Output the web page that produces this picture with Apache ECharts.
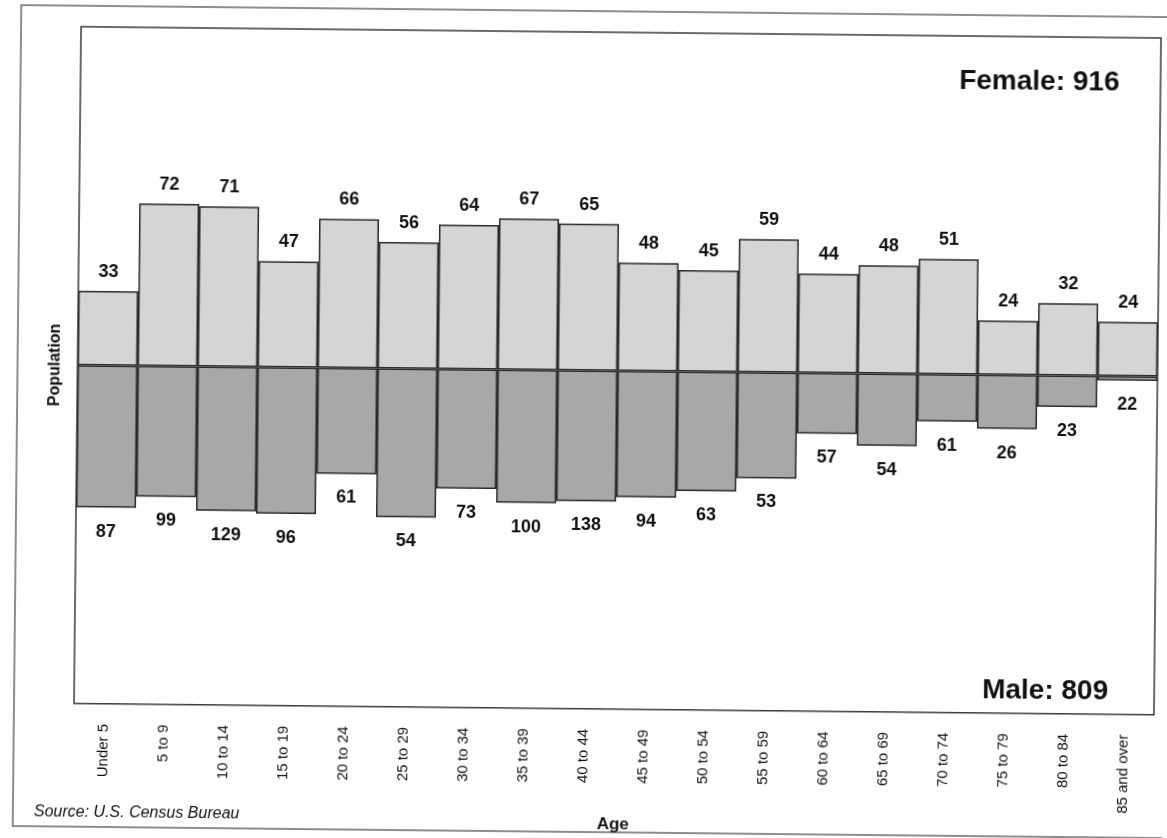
<!DOCTYPE html>
<html>
<head>
<meta charset="utf-8">
<script src="https://cdn.jsdelivr.net/npm/echarts@6/dist/echarts.min.js"></script>
<style>
  html, body { margin: 0; padding: 0; background: #fff; overflow: hidden; }
  #chart {
    width: 1167px;
    height: 838px;
    transform: rotate(0.6deg);
    transform-origin: 50% 50%;
  }
</style>
</head>
<body>
<div id="chart"></div>
<script>
  // age groups along the x axis
  const ages = [
    'Under 5', '5 to 9', '10 to 14', '15 to 19', '20 to 24', '25 to 29',
    '30 to 34', '35 to 39', '40 to 44', '45 to 49', '50 to 54', '55 to 59',
    '60 to 64', '65 to 69', '70 to 74', '75 to 79', '80 to 84', '85 and over'
  ]

  // female bars (drawn above zero), heights match their printed labels
  const femaleValues = [33, 72, 71, 47, 66, 56, 64, 67, 65, 48, 45, 59, 44, 48, 51, 24, 32, 24]

  // male bars (drawn below zero): heights, they add up to 809
  const maleValues = [63, 58, 64, 65, 47, 66, 53, 59, 58, 56, 53, 47, 27, 32, 21, 24, 14, 2]
  // numbers printed under the male bars
  const maleLabels = [87, 99, 129, 96, 61, 54, 73, 100, 138, 94, 63, 53, 57, 54, 61, 26, 23, 22]

  const femaleTotal = 916
  const maleTotal = 809

  const font = 'Liberation Sans, Arial, sans-serif'

  const labelFont = {
    fontFamily: font,
    fontWeight: 'bold',
    fontSize: 18,
    color: '#111'
  }

  const option = {
    animation: false,
    backgroundColor: '#fff',
    grid: {
      left: 77,
      top: 32,
      width: 1080,
      height: 682,
      show: true,
      borderColor: '#3a3a3a',
      borderWidth: 1.5,
      backgroundColor: 'transparent'
    },
    xAxis: {
      type: 'category',
      data: ages,
      name: 'Age',
      nameLocation: 'middle',
      nameGap: 98,
      nameTextStyle: {
        fontFamily: font,
        fontWeight: 'bold',
        fontSize: 17,
        color: '#111'
      },
      axisLine: { show: false },
      axisTick: { show: false },
      axisLabel: {
        rotate: 90,
        interval: 0,
        margin: 20,
        fontFamily: font,
        fontSize: 15,
        color: '#111'
      }
    },
    yAxis: {
      type: 'value',
      min: -150,
      max: 150,
      name: 'Population',
      nameLocation: 'middle',
      nameRotate: 90,
      nameGap: 14,
      nameTextStyle: {
        fontFamily: font,
        fontWeight: 'bold',
        fontSize: 16,
        color: '#111'
      },
      axisLine: { show: false },
      axisTick: { show: false },
      axisLabel: { show: false },
      splitLine: { show: false }
    },
    series: [
      {
        name: 'Female',
        type: 'bar',
        stack: 'pop',
        data: femaleValues,
        barCategoryGap: 0,
        itemStyle: { color: '#d5d5d5', borderColor: '#2a2a2a', borderWidth: 1.5 },
        label: {
          show: true,
          position: 'top',
          distance: 10,
          ...labelFont
        }
      },
      {
        name: 'Male',
        type: 'bar',
        stack: 'pop',
        data: maleValues.map(v => -v),
        barCategoryGap: 0,
        itemStyle: { color: '#a8a8a8', borderColor: '#2a2a2a', borderWidth: 1.5 },
        label: {
          show: true,
          position: 'bottom',
          distance: 15,
          formatter: p => String(maleLabels[p.dataIndex]),
          ...labelFont
        }
      }
    ],
    graphic: [
      {
        type: 'rect',
        shape: { x: 17, y: 11, width: 1180, height: 821 },
        style: { fill: 'none', stroke: '#6a6a6a', lineWidth: 1.5 },
        z: -1
      },
      {
        type: 'text',
        style: {
          x: 1116,
          y: 77,
          text: 'Female: ' + femaleTotal,
          textAlign: 'right',
          textVerticalAlign: 'middle',
          fontFamily: font,
          fontWeight: 'bold',
          fontSize: 28,
          fill: '#111'
        }
      },
      {
        type: 'text',
        style: {
          x: 1111,
          y: 686,
          text: 'Male: ' + maleTotal,
          textAlign: 'right',
          textVerticalAlign: 'middle',
          fontFamily: font,
          fontWeight: 'bold',
          fontSize: 28,
          fill: '#111'
        }
      },
      {
        type: 'text',
        left: 38,
        top: 810,
        style: {
          text: 'Source: U.S. Census Bureau',
          fontFamily: font,
          fontStyle: 'italic',
          fontSize: 16,
          fill: '#111'
        }
      }
    ]
  }

  const chart = echarts.init(document.getElementById('chart'))
  chart.setOption(option)
</script>
</body>
</html>
